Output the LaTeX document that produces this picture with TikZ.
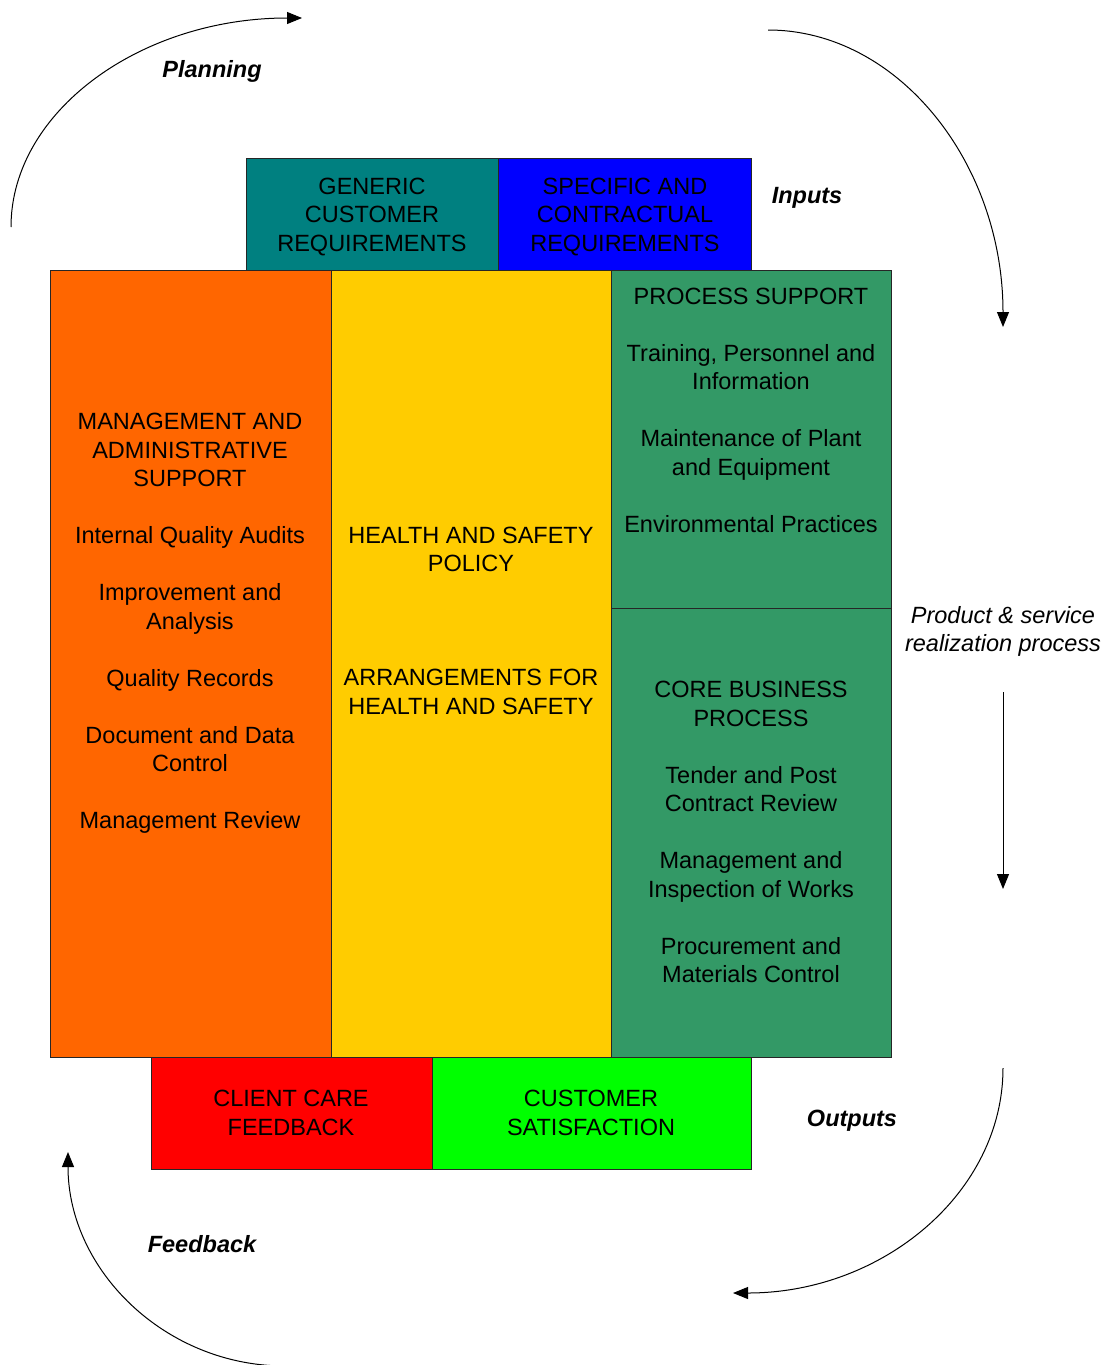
\documentclass[tikz,border=0pt]{standalone}
\usepackage{fontspec}
\setmainfont{Liberation Sans}
\usetikzlibrary{arrows.meta}
\definecolor{cteal}{HTML}{008080}
\definecolor{cblue}{HTML}{0000FF}
\definecolor{corange}{HTML}{FF6600}
\definecolor{cyellow}{HTML}{FFCC00}
\definecolor{cgreen}{HTML}{339966}
\definecolor{cred}{HTML}{FF0000}
\definecolor{clime}{HTML}{00FF00}
\begin{document}
\begin{tikzpicture}[x=1pt,y=-1pt,
  box/.style={draw=black!85,line width=1pt},
  txt/.style={align=center,inner sep=0pt,font=\fontsize{23.5}{28.5}\selectfont},
  lbl/.style={align=center,inner sep=0pt,font=\fontsize{23.5}{28.5}\selectfont\bfseries\itshape},
  ilbl/.style={align=center,inner sep=0pt,font=\fontsize{23.5}{28.5}\selectfont\itshape},
  flow/.style={line width=1pt,-{Triangle[length=15pt,width=12pt]}}]
\useasboundingbox (0,0) rectangle (1106,1365);
% boxes
\fill[cteal] (246,158) rectangle (498,270);
\draw[box] (246,158) rectangle (498,270);
\fill[cblue] (498,158) rectangle (751,270);
\draw[box] (498,158) rectangle (751,270);
\fill[corange] (50,270) rectangle (331,1057);
\draw[box] (50,270) rectangle (331,1057);
\fill[cyellow] (331,270) rectangle (611,1057);
\draw[box] (331,270) rectangle (611,1057);
\fill[cgreen] (611,270) rectangle (891,1057);
\draw[box] (611,270) rectangle (891,608);
\draw[box] (611,608) rectangle (891,1057);
\fill[cred] (151,1057) rectangle (432,1169);
\draw[box] (151,1057) rectangle (432,1169);
\fill[clime] (432,1057) rectangle (751,1169);
\draw[box] (432,1057) rectangle (751,1169);
% texts
\node[txt] (generic) at (372,217) {GENERIC\\CUSTOMER\\REQUIREMENTS};
\node[txt] (specific) at (625,217) {SPECIFIC AND\\CONTRACTUAL\\REQUIREMENTS};
\node[txt] (mgmt) at (190,623.5) {MANAGEMENT AND\\ADMINISTRATIVE\\SUPPORT\\[28.5pt]Internal Quality Audits\\[28.5pt]Improvement and\\Analysis\\[28.5pt]Quality Records\\[28.5pt]Document and Data\\Control\\[28.5pt]Management Review};
\node[txt] (hs) at (471,620.5) {HEALTH AND SAFETY\\POLICY\\[85.5pt]ARRANGEMENTS FOR\\HEALTH AND SAFETY};
\node[txt] (ps) at (751,410) {PROCESS SUPPORT\\[28.5pt]Training, Personnel and\\Information\\[28.5pt]Maintenance of Plant\\and Equipment\\[28.5pt]Environmental Practices};
\node[txt] (core) at (751,832) {CORE BUSINESS\\PROCESS\\[28.5pt]Tender and Post\\Contract Review\\[28.5pt]Management and\\Inspection of Works\\[28.5pt]Procurement and\\Materials Control};
\node[txt] (client) at (291,1113) {CLIENT CARE\\FEEDBACK};
\node[txt] (cust) at (591,1113) {CUSTOMER\\SATISFACTION};
% labels
\node[lbl] (planning) at (212,71) {Planning};
\node[lbl] (inputs) at (807,197.5) {Inputs};
\node[ilbl] (prod) at (1003,631.5) {Product \& service\\realization process};
\node[lbl] (outputs) at (852,1120.5) {Outputs};
\node[lbl] (feedback) at (202,1244) {Feedback};
% arrows
\coordinate (p1) at (11,227);
\coordinate (p2) at (302,18);
\draw[flow] (p1) .. controls (11,111.6) and (140.4,18) .. (p2);
\coordinate (i1) at (768,30);
\coordinate (i2) at (1003,327);
\draw[flow] (i1) .. controls (897.8,30) and (1003,162.5) .. (i2);
\coordinate (r1) at (1003,692);
\coordinate (r2) at (1003,889);
\draw[flow] (r1) -- (r2);
\coordinate (o1) at (1003,1068);
\coordinate (o2) at (733,1293);
\draw[flow] (o1) .. controls (1003,1192.3) and (883,1293) .. (o2);
\coordinate (f1) at (285,1366);
\coordinate (f2) at (68,1152);
\draw[flow] (f1) .. controls (165.2,1366) and (68,1270.1) .. (f2);
\end{tikzpicture}
\end{document}
